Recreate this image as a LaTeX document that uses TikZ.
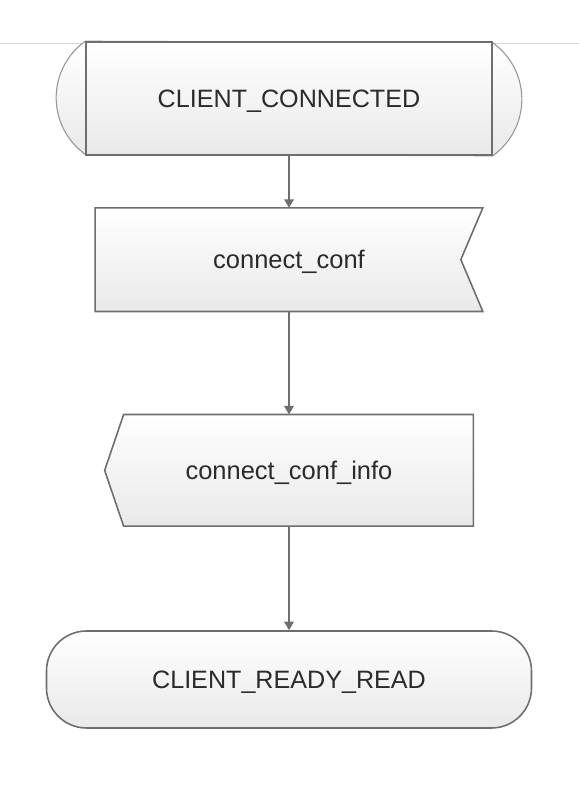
\documentclass[tikz,border=0pt]{standalone}
\usepackage{fontspec}
\setmainfont{Liberation Sans}
\usepackage{xcolor}
\usepackage{tikz}
\usetikzlibrary{positioning,backgrounds,arrows.meta}

\definecolor{edgegray}{HTML}{6E6E6E}
\definecolor{arcgray}{HTML}{959595}
\definecolor{rulegray}{HTML}{D6D6D6}
\definecolor{fillgray}{HTML}{E9E9E9}
\definecolor{textgray}{HTML}{2B2B2B}

\tikzset{
	statebox/.style={draw=edgegray, line width=0.9pt, top color=white, bottom color=fillgray, text=textgray, text depth=0pt, font=\fontsize{14.3}{17}\selectfont},
	textbox/.style={text=textgray, text depth=0pt, font=\fontsize{14.5}{17}\selectfont},
	outline/.style={draw=edgegray, line width=0.9pt, top color=white, bottom color=fillgray},
	flow/.style={draw=edgegray, line width=0.9pt, -{Triangle[width=1.9mm,length=1.7mm]}}
}

\begin{document}
\begin{tikzpicture}
		\useasboundingbox (-5.78,1.97) rectangle (5.8,-13.73);
		
		% Draw the first state
		\node (connected) [statebox, rectangle, minimum width=8.12cm, minimum height=2.26cm] {CLIENT\_CONNECTED};
		
		% Draw the received signal below the first state
		\node (conf) [textbox, rectangle, minimum width=7.74cm, minimum height=2.06cm, below=1.04cm of connected] {connect\_conf};
		
		% Draw the sent signal below the received one
		\node (info) [textbox, rectangle, minimum width=7.36cm, minimum height=2.22cm, below=2.06cm of conf] {connect\_conf\_info};
		
		% Draw the last state below the sent signal
		\node (ready) [statebox, rectangle, rounded corners=0.8cm, minimum width=9.7cm, minimum height=1.94cm, below=2.08cm of info] {CLIENT\_READY\_READ};
		
		% Draw the outlines behind the texts
		\begin{scope}[on background layer]
			\draw[rulegray, line width=0.5pt] (-5.78,1.10) -- (5.8,1.10);
			\path[draw=arcgray, line width=0.6pt, top color=white, bottom color=fillgray] (connected.north west) arc[start angle=125.6, end angle=234.4, radius=1.39cm] -- (connected.south east) arc[start angle=-54.4, end angle=54.4, radius=1.39cm] -- cycle;
			\path[outline] (conf.north west) -- (conf.north east) -- ([xshift=-0.44cm]conf.east) -- (conf.south east) -- (conf.south west) -- cycle;
			\path[outline] (info.west) -- ([xshift=0.38cm]info.north west) -- (info.north east) -- (info.south east) -- ([xshift=0.38cm]info.south west) -- cycle;
		\end{scope}
		
		% Connect the blocks with arrows
		\draw[flow] (connected) -- (conf);
		\draw[flow] (conf) -- (info);
		\draw[flow] (info) -- (ready);
	\end{tikzpicture}
\end{document}
